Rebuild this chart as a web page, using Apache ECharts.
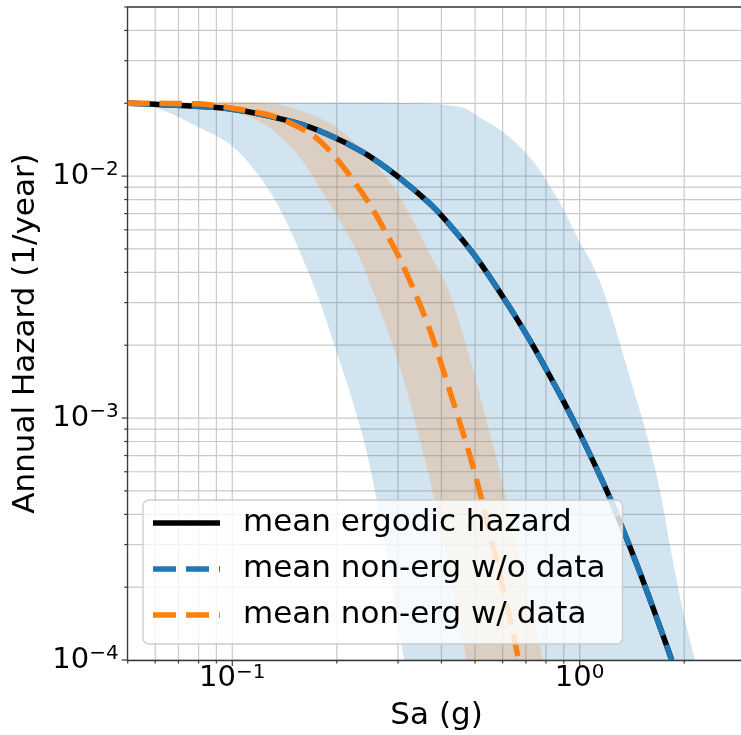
<!DOCTYPE html>
<html><head><meta charset="utf-8">
<script src="https://cdn.jsdelivr.net/npm/echarts@6/dist/echarts.min.js"></script>
<style>html,body{margin:0;padding:0;background:#fff}#c{width:741px;height:735px}</style>
</head><body><div id="c"></div><script>
// axis ranges and tick values
const X_MIN = 0.05, X_MAX = 3, Y_MIN = 1e-4, Y_MAX = 0.05;
const xMajorTicks = [0.1, 1];
const xMinorTicks = [0.05, 0.06, 0.07, 0.08, 0.09, 0.2, 0.3, 0.4, 0.5, 0.6, 0.7, 0.8, 0.9, 2, 3];
const yMajorTicks = [1e-4, 1e-3, 1e-2];
const yMinorTicks = [2e-4, 3e-4, 4e-4, 5e-4, 6e-4, 7e-4, 8e-4, 9e-4,
                     2e-3, 3e-3, 4e-3, 5e-3, 6e-3, 7e-3, 8e-3, 9e-3,
                     0.02, 0.03, 0.04, 0.05];

// mean ergodic hazard (= mean non-ergodic w/o data)
const meanX = [0.05, 0.06, 0.1, 0.153, 0.19, 0.237, 0.278, 0.33, 0.387, 0.46, 0.515, 0.576, 0.649, 0.727, 0.809, 0.905, 0.987, 1.09, 1.205, 1.331, 1.489, 1.667, 1.841];
const meanY = [0.0200, 0.0198, 0.0189, 0.0166, 0.0148, 0.0126, 0.0108, 0.0089, 0.00724, 0.00544, 0.00441, 0.00348, 0.00267, 0.00204, 0.00155, 0.00115, 0.00090, 0.00067, 0.00049, 0.000348, 0.000231, 0.000149, 0.0001];

// mean non-ergodic w/ data
const dataX = [0.05, 0.08, 0.1, 0.134, 0.17, 0.19, 0.213, 0.248, 0.2775, 0.3026, 0.3387, 0.3693, 0.3946, 0.4217, 0.4506, 0.4816, 0.5146, 0.576, 0.6406, 0.667];
const dataY = [0.0200, 0.0199, 0.0191, 0.0175, 0.0148, 0.0128, 0.0105, 0.0077, 0.0058, 0.0046, 0.0032, 0.00234, 0.00177, 0.00131, 0.00097, 0.00071, 0.0005, 0.00026, 0.000133, 0.0001];

// band w/o data (upper / lower)
const bandAUpX = [0.05, 0.3455, 0.4135, 0.4659, 0.5148, 0.6077, 0.7176, 0.8585, 1.0, 1.09, 1.196, 1.305, 1.422, 1.561, 1.701, 1.841, 1.995, 2.146];
const bandAUpY = [0.02, 0.02, 0.01966, 0.0191, 0.01753, 0.01505, 0.01198, 0.00819, 0.00534, 0.00429, 0.00307, 0.00204, 0.00134, 0.00085, 0.000504, 0.000272, 0.000154, 0.0001];
const bandALoX = [0.05, 0.0594, 0.0802, 0.1, 0.1218, 0.1391, 0.1557, 0.178, 0.1989, 0.2213, 0.2427, 0.2596, 0.2831, 0.3123];
const bandALoY = [0.02, 0.0193, 0.0159, 0.0133, 0.00963, 0.00703, 0.00495, 0.00307, 0.00191, 0.00119, 0.00074, 0.00047, 0.000235, 0.0001];

// band w/ data (upper / lower)
const bandBUpX = [0.05, 0.1276, 0.1558, 0.19, 0.2213, 0.248, 0.2825, 0.3233, 0.3693, 0.4135, 0.46, 0.5047, 0.5501, 0.5997, 0.685, 0.782];
const bandBUpY = [0.02, 0.02, 0.0187, 0.0166, 0.0141, 0.012, 0.0096, 0.0070, 0.0048, 0.00354, 0.00225, 0.0014, 0.00087, 0.00054, 0.000235, 0.0001];
const bandBLoX = [0.05, 0.0802, 0.1, 0.1218, 0.1527, 0.178, 0.2032, 0.2274, 0.2597, 0.2927, 0.3233, 0.3525, 0.3818, 0.4217, 0.472];
const bandBLoY = [0.02, 0.0191, 0.0184, 0.0166, 0.01245, 0.009, 0.00658, 0.00495, 0.00307, 0.00191, 0.00119, 0.00074, 0.00046, 0.000235, 0.0001];

const names = ['mean ergodic hazard', 'mean non-erg w/o data', 'mean non-erg w/ data'];
const FONT = 'DejaVu Sans';
const GRID_COLOR = '#c9c9c9';
const SPINE = '#3a3a3a';
const LW = 5.5;
const DASH = [22, 10];

const zip = (xs, ys) => xs.map((x, i) => [x, ys[i]]);

// centripetal Catmull-Rom through pixel points (rendering only)
function smoothPath(pts, seg) {
  const n = pts.length;
  if (n < 3) return pts.slice();
  const P = [[2 * pts[0][0] - pts[1][0], 2 * pts[0][1] - pts[1][1]]].concat(pts,
    [[2 * pts[n - 1][0] - pts[n - 2][0], 2 * pts[n - 1][1] - pts[n - 2][1]]]);
  const out = [];
  const d = (a, b) => Math.max(Math.sqrt(Math.hypot(b[0] - a[0], b[1] - a[1])), 1e-4);
  const lerp = (a, b, ta, tb, t) => [((tb - t) * a[0] + (t - ta) * b[0]) / (tb - ta), ((tb - t) * a[1] + (t - ta) * b[1]) / (tb - ta)];
  for (let i = 1; i < P.length - 2; i++) {
    const p0 = P[i - 1], p1 = P[i], p2 = P[i + 1], p3 = P[i + 2];
    const t0 = 0, t1 = t0 + d(p0, p1), t2 = t1 + d(p1, p2), t3 = t2 + d(p2, p3);
    for (let k = 0; k < seg; k++) {
      const t = t1 + (t2 - t1) * k / seg;
      const A1 = lerp(p0, p1, t0, t1, t), A2 = lerp(p1, p2, t1, t2, t), A3 = lerp(p2, p3, t2, t3, t);
      const B1 = lerp(A1, A2, t0, t2, t), B2 = lerp(A2, A3, t1, t3, t);
      out.push(lerp(B1, B2, t1, t2, t));
    }
  }
  out.push(pts[n - 1]);
  return out;
}

function bandRenderer(upX, upY, loX, loY, color) {
  return function (params, api) {
    const up = upX.map((x, i) => api.coord([x, upY[i]]));
    const lo = loX.map((x, i) => api.coord([x, loY[i]]));
    const pts = smoothPath(up, 10).concat(smoothPath(lo, 10).reverse());
    return { type: 'polygon', shape: { points: pts }, style: { fill: color }, silent: true };
  };
}
function vGrid(params, api) {
  const a = api.coord([api.value(0), Y_MIN]), b = api.coord([api.value(0), Y_MAX]);
  return { type: 'line', shape: { x1: a[0], y1: a[1], x2: b[0], y2: b[1] }, style: { stroke: GRID_COLOR, lineWidth: 1.2 }, silent: true };
}
function hGrid(params, api) {
  const a = api.coord([X_MIN, api.value(1)]), b = api.coord([X_MAX, api.value(1)]);
  return { type: 'line', shape: { x1: a[0], y1: a[1], x2: b[0], y2: b[1] }, style: { stroke: GRID_COLOR, lineWidth: 1.2 }, silent: true };
}
function topSpine(params, api) {
  const a = api.coord([X_MIN, Y_MAX]), b = api.coord([X_MAX, Y_MAX]);
  return { type: 'line', shape: { x1: a[0], y1: a[1], x2: b[0], y2: b[1] }, style: { stroke: SPINE, lineWidth: 1.3 }, silent: true };
}
function xTick(len) {
  return function (params, api) {
    const a = api.coord([api.value(0), Y_MIN]);
    return { type: 'line', shape: { x1: a[0], y1: a[1], x2: a[0], y2: a[1] + len }, style: { stroke: SPINE, lineWidth: 1.2 }, silent: true };
  };
}
function yTick(len) {
  return function (params, api) {
    const a = api.coord([X_MIN, api.value(1)]);
    return { type: 'line', shape: { x1: a[0], y1: a[1], x2: a[0] - len, y2: a[1] }, style: { stroke: SPINE, lineWidth: 1.2 }, silent: true };
  };
}
function powLabel(v) {
  const e = Math.log10(v);
  const r = Math.round(e);
  if (Math.abs(e - r) > 1e-6) return '';
  return '{b|10}{s|' + (r < 0 ? '\u2212' + (-r) : String(r)) + '}';
}
const labelRich = {
  b: { fontSize: 29, fontFamily: FONT, color: '#000', lineHeight: 29 },
  s: { fontSize: 20, fontFamily: FONT, color: '#000', lineHeight: 20, padding: [0, 0, 12, 0] }
};
const ICON_SOLID = 'path://M0,0H67V5.5H0Z';
const ICON_DASH = 'path://M0,0H23V5.5H0Z M33,0H56V5.5H33Z M66,0H67V5.5H66Z';

const chart = echarts.init(document.getElementById('c'), null, { renderer: 'canvas' });
chart.setOption({
  animation: false,
  backgroundColor: '#fff',
  grid: { left: 127.7, top: 7, right: -4.4, bottom: 75, show: false, containLabel: false, outerBoundsMode: 'none' },
  xAxis: {
    type: 'log', logBase: 10, min: X_MIN, max: X_MAX,
    name: 'Sa (g)', nameLocation: 'middle', nameGap: 40,
    nameTextStyle: { fontSize: 31, fontFamily: FONT, color: '#000', lineHeight: 31 },
    axisLine: { show: true, lineStyle: { color: SPINE, width: 1.3 } },
    axisTick: { show: false },
    splitLine: { show: false },
    axisLabel: { formatter: powLabel, rich: labelRich, margin: 4, showMinLabel: true, showMaxLabel: true, hideOverlap: false }
  },
  yAxis: {
    type: 'log', logBase: 10, min: Y_MIN, max: Y_MAX,
    name: 'Annual Hazard (1/year)', nameLocation: 'middle', nameGap: 80, nameRotate: 90,
    nameTextStyle: { fontSize: 31, fontFamily: FONT, color: '#000', lineHeight: 31 },
    axisLine: { show: true, lineStyle: { color: SPINE, width: 1.3 } },
    axisTick: { show: false },
    splitLine: { show: false },
    axisLabel: { formatter: powLabel, rich: labelRich, margin: 9, showMinLabel: true, showMaxLabel: true, hideOverlap: false }
  },
  legend: {
    data: [
      { name: names[0], icon: ICON_SOLID },
      { name: names[1], icon: ICON_DASH },
      { name: names[2], icon: ICON_DASH }
    ],
    orient: 'vertical', left: 143, top: 500,
    padding: [5, 17, 11, 10], itemGap: 10, itemWidth: 67, itemHeight: 5.5,
    backgroundColor: 'rgba(255,255,255,0.8)', borderColor: '#cccccc', borderWidth: 1.3, borderRadius: 6,
    selectedMode: false,
    textStyle: { fontSize: 31, fontFamily: FONT, color: '#000', lineHeight: 36, padding: [0, 0, 0, 18] },
    z: 20
  },
  series: [
    { type: 'custom', renderItem: vGrid, data: xMajorTicks.concat(xMinorTicks).map(v => [v, Y_MIN]), z: 0, silent: true },
    { type: 'custom', renderItem: hGrid, data: yMajorTicks.concat(yMinorTicks).map(v => [X_MIN, v]), z: 0, silent: true },
    { type: 'custom', renderItem: topSpine, data: [[X_MIN, Y_MAX]], z: 1, silent: true },
    { type: 'custom', renderItem: xTick(6), data: xMajorTicks.map(v => [v, Y_MIN]), z: 1, silent: true },
    { type: 'custom', renderItem: xTick(3.5), data: xMinorTicks.map(v => [v, Y_MIN]), z: 1, silent: true },
    { type: 'custom', renderItem: yTick(6), data: yMajorTicks.map(v => [X_MIN, v]), z: 1, silent: true },
    { type: 'custom', renderItem: yTick(3.5), data: yMinorTicks.map(v => [X_MIN, v]), z: 1, silent: true },
    { type: 'custom', renderItem: bandRenderer(bandAUpX, bandAUpY, bandALoX, bandALoY, 'rgba(31,119,180,0.2)'), data: [[bandAUpX[0], bandAUpY[0]]], z: 2, clip: true, silent: true },
    { type: 'custom', renderItem: bandRenderer(bandBUpX, bandBUpY, bandBLoX, bandBLoY, 'rgba(255,127,14,0.2)'), data: [[bandBUpX[0], bandBUpY[0]]], z: 3, clip: true, silent: true },
    { name: names[0], type: 'line', data: zip(meanX, meanY), symbol: 'none', showSymbol: false, smooth: 0.3, z: 4,
      lineStyle: { color: '#000000', width: LW }, itemStyle: { color: '#000000' } },
    { name: names[1], type: 'line', data: zip(meanX, meanY), symbol: 'none', showSymbol: false, smooth: 0.3, z: 5,
      lineStyle: { color: '#1f77b4', width: LW, type: DASH }, itemStyle: { color: '#1f77b4' } },
    { name: names[2], type: 'line', data: zip(dataX, dataY), symbol: 'none', showSymbol: false, smooth: 0.3, z: 6,
      lineStyle: { color: '#ff7f0e', width: LW, type: DASH }, itemStyle: { color: '#ff7f0e' } }
  ]
});
</script></body></html>
